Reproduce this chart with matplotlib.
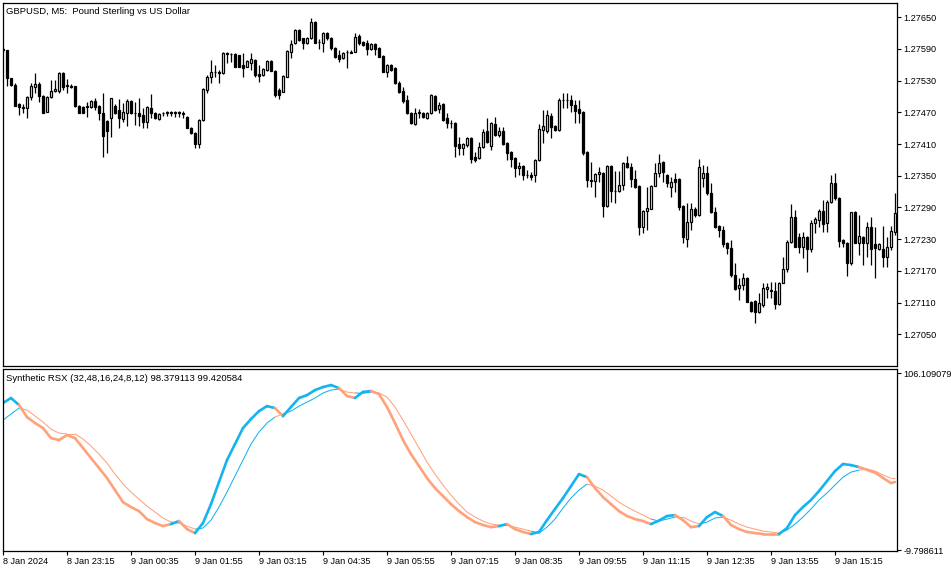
import matplotlib
matplotlib.use('Agg')
import matplotlib.pyplot as plt

# GBPUSD M5 candles (bar 0 = 8 Jan 21:55)
opens = [
    1.27590, 1.27588, 1.27535, 1.27522, 1.27486, 1.27480, 1.27478, 1.27499, 1.27518, 1.27524,
    1.27501, 1.27471, 1.27499, 1.27510, 1.27510, 1.27545, 1.27520, 1.27520, 1.27520, 1.27482,
    1.27480, 1.27480, 1.27480, 1.27491, 1.27482, 1.27469, 1.27454, 1.27459, 1.27482, 1.27474,
    1.27457, 1.27469, 1.27491, 1.27469, 1.27469, 1.27465, 1.27452, 1.27478, 1.27469, 1.27457,
    1.27469, 1.27469, 1.27470, 1.27469, 1.27470, 1.27468, 1.27461, 1.27440, 1.27431, 1.27410,
    1.27456, 1.27512, 1.27537, 1.27546, 1.27546, 1.27545, 1.27582, 1.27581, 1.27580, 1.27579,
    1.27560, 1.27556, 1.27563, 1.27569, 1.27543, 1.27541, 1.27550, 1.27567, 1.27548, 1.27512,
    1.27508, 1.27537, 1.27584, 1.27601, 1.27626, 1.27611, 1.27601, 1.27611, 1.27641, 1.27603,
    1.27601, 1.27620, 1.27611, 1.27592, 1.27579, 1.27573, 1.27584, 1.27584, 1.27584, 1.27615,
    1.27603, 1.27601, 1.27590, 1.27599, 1.27592, 1.27577, 1.27546, 1.27560, 1.27554, 1.27526,
    1.27510, 1.27493, 1.27469, 1.27448, 1.27469, 1.27469, 1.27459, 1.27469, 1.27501, 1.27476,
    1.27486, 1.27459, 1.27450, 1.27450, 1.27410, 1.27402, 1.27408, 1.27421, 1.27385, 1.27384,
    1.27404, 1.27435, 1.27406, 1.27448, 1.27427, 1.27435, 1.27412, 1.27395, 1.27384, 1.27365,
    1.27368, 1.27351, 1.27351, 1.27351, 1.27380, 1.27437, 1.27435, 1.27463, 1.27444, 1.27437,
    1.27493, 1.27494, 1.27493, 1.27484, 1.27476, 1.27471, 1.27395, 1.27342, 1.27340, 1.27353,
    1.27355, 1.27293, 1.27368, 1.27321, 1.27321, 1.27332, 1.27374, 1.27367, 1.27344, 1.27331,
    1.27253, 1.27283, 1.27287, 1.27331, 1.27355, 1.27376, 1.27351, 1.27329, 1.27344, 1.27344,
    1.27293, 1.27230, 1.27262, 1.27287, 1.27276, 1.27346, 1.27355, 1.27317, 1.27281, 1.27255,
    1.27247, 1.27223, 1.27213, 1.27162, 1.27138, 1.27143, 1.27156, 1.27111, 1.27113, 1.27092,
    1.27105, 1.27136, 1.27132, 1.27132, 1.27107, 1.27147, 1.27173, 1.27225, 1.27272, 1.27234,
    1.27215, 1.27234, 1.27211, 1.27261, 1.27266, 1.27283, 1.27261, 1.27300, 1.27336, 1.27308,
    1.27228, 1.27223, 1.27185, 1.27281, 1.27223, 1.27234, 1.27223, 1.27253, 1.27221, 1.27211,
    1.27211, 1.27196, 1.27215, 1.27243,
]
highs = [
    1.27592, 1.27588, 1.27535, 1.27526, 1.27488, 1.27486, 1.27501, 1.27526, 1.27545, 1.27527,
    1.27503, 1.27501, 1.27531, 1.27531, 1.27546, 1.27546, 1.27533, 1.27524, 1.27520, 1.27484,
    1.27482, 1.27490, 1.27493, 1.27497, 1.27484, 1.27507, 1.27456, 1.27497, 1.27486, 1.27495,
    1.27488, 1.27495, 1.27493, 1.27490, 1.27497, 1.27478, 1.27482, 1.27505, 1.27471, 1.27469,
    1.27471, 1.27473, 1.27473, 1.27473, 1.27473, 1.27473, 1.27463, 1.27442, 1.27433, 1.27457,
    1.27516, 1.27541, 1.27569, 1.27560, 1.27550, 1.27584, 1.27584, 1.27582, 1.27582, 1.27579,
    1.27582, 1.27569, 1.27582, 1.27571, 1.27560, 1.27554, 1.27569, 1.27569, 1.27550, 1.27516,
    1.27541, 1.27588, 1.27607, 1.27628, 1.27628, 1.27611, 1.27613, 1.27649, 1.27643, 1.27609,
    1.27622, 1.27622, 1.27613, 1.27594, 1.27588, 1.27584, 1.27588, 1.27588, 1.27620, 1.27618,
    1.27605, 1.27607, 1.27601, 1.27601, 1.27594, 1.27579, 1.27561, 1.27561, 1.27556, 1.27529,
    1.27518, 1.27503, 1.27471, 1.27478, 1.27476, 1.27471, 1.27471, 1.27505, 1.27503, 1.27490,
    1.27488, 1.27469, 1.27456, 1.27452, 1.27423, 1.27412, 1.27423, 1.27423, 1.27395, 1.27414,
    1.27439, 1.27459, 1.27452, 1.27461, 1.27442, 1.27442, 1.27414, 1.27397, 1.27385, 1.27376,
    1.27370, 1.27361, 1.27357, 1.27382, 1.27448, 1.27474, 1.27474, 1.27469, 1.27446, 1.27497,
    1.27507, 1.27507, 1.27503, 1.27493, 1.27493, 1.27473, 1.27397, 1.27376, 1.27355, 1.27367,
    1.27357, 1.27370, 1.27370, 1.27359, 1.27359, 1.27376, 1.27387, 1.27374, 1.27361, 1.27332,
    1.27285, 1.27329, 1.27332, 1.27374, 1.27391, 1.27378, 1.27353, 1.27348, 1.27355, 1.27346,
    1.27295, 1.27298, 1.27298, 1.27291, 1.27382, 1.27370, 1.27368, 1.27336, 1.27291, 1.27257,
    1.27255, 1.27225, 1.27228, 1.27185, 1.27156, 1.27166, 1.27158, 1.27113, 1.27115, 1.27128,
    1.27147, 1.27147, 1.27149, 1.27149, 1.27149, 1.27196, 1.27228, 1.27297, 1.27285, 1.27242,
    1.27243, 1.27236, 1.27266, 1.27272, 1.27287, 1.27304, 1.27304, 1.27351, 1.27355, 1.27310,
    1.27230, 1.27225, 1.27281, 1.27283, 1.27276, 1.27236, 1.27262, 1.27272, 1.27253, 1.27223,
    1.27255, 1.27234, 1.27255, 1.27317,
]
lows = [
    1.27584, 1.27520, 1.27520, 1.27482, 1.27465, 1.27469, 1.27459, 1.27493, 1.27507, 1.27490,
    1.27469, 1.27471, 1.27497, 1.27508, 1.27507, 1.27512, 1.27507, 1.27516, 1.27480, 1.27469,
    1.27469, 1.27461, 1.27478, 1.27474, 1.27456, 1.27385, 1.27393, 1.27423, 1.27467, 1.27440,
    1.27452, 1.27444, 1.27467, 1.27446, 1.27444, 1.27440, 1.27440, 1.27459, 1.27457, 1.27456,
    1.27463, 1.27463, 1.27463, 1.27461, 1.27461, 1.27459, 1.27440, 1.27429, 1.27402, 1.27402,
    1.27454, 1.27507, 1.27526, 1.27537, 1.27526, 1.27543, 1.27563, 1.27565, 1.27556, 1.27556,
    1.27537, 1.27556, 1.27550, 1.27537, 1.27527, 1.27539, 1.27548, 1.27548, 1.27499, 1.27495,
    1.27508, 1.27537, 1.27573, 1.27599, 1.27605, 1.27590, 1.27599, 1.27609, 1.27601, 1.27590,
    1.27584, 1.27607, 1.27588, 1.27573, 1.27565, 1.27571, 1.27554, 1.27582, 1.27584, 1.27598,
    1.27596, 1.27579, 1.27588, 1.27579, 1.27575, 1.27546, 1.27537, 1.27548, 1.27524, 1.27507,
    1.27488, 1.27467, 1.27448, 1.27446, 1.27459, 1.27459, 1.27457, 1.27467, 1.27473, 1.27469,
    1.27454, 1.27440, 1.27440, 1.27385, 1.27389, 1.27389, 1.27404, 1.27374, 1.27376, 1.27382,
    1.27402, 1.27412, 1.27399, 1.27425, 1.27423, 1.27408, 1.27380, 1.27367, 1.27348, 1.27351,
    1.27342, 1.27346, 1.27342, 1.27338, 1.27378, 1.27412, 1.27431, 1.27421, 1.27435, 1.27435,
    1.27478, 1.27478, 1.27471, 1.27450, 1.27450, 1.27389, 1.27329, 1.27329, 1.27310, 1.27338,
    1.27272, 1.27291, 1.27300, 1.27298, 1.27319, 1.27323, 1.27365, 1.27329, 1.27327, 1.27238,
    1.27242, 1.27247, 1.27289, 1.27332, 1.27348, 1.27338, 1.27329, 1.27310, 1.27319, 1.27285,
    1.27223, 1.27215, 1.27247, 1.27272, 1.27274, 1.27329, 1.27314, 1.27280, 1.27251, 1.27234,
    1.27215, 1.27202, 1.27158, 1.27134, 1.27115, 1.27134, 1.27111, 1.27092, 1.27071, 1.27090,
    1.27101, 1.27119, 1.27119, 1.27098, 1.27105, 1.27147, 1.27168, 1.27223, 1.27215, 1.27204,
    1.27194, 1.27168, 1.27206, 1.27242, 1.27253, 1.27243, 1.27243, 1.27298, 1.27304, 1.27215,
    1.27215, 1.27160, 1.27181, 1.27223, 1.27200, 1.27181, 1.27196, 1.27181, 1.27156, 1.27209,
    1.27177, 1.27177, 1.27209, 1.27238,
]
closes = [
    1.27588, 1.27535, 1.27522, 1.27482, 1.27480, 1.27479, 1.27499, 1.27520, 1.27524, 1.27501,
    1.27469, 1.27499, 1.27510, 1.27514, 1.27545, 1.27518, 1.27522, 1.27518, 1.27482, 1.27469,
    1.27469, 1.27482, 1.27491, 1.27480, 1.27469, 1.27425, 1.27435, 1.27497, 1.27469, 1.27459,
    1.27471, 1.27491, 1.27469, 1.27468, 1.27463, 1.27452, 1.27480, 1.27469, 1.27459, 1.27467,
    1.27469, 1.27470, 1.27469, 1.27470, 1.27469, 1.27467, 1.27440, 1.27431, 1.27410, 1.27456,
    1.27514, 1.27537, 1.27546, 1.27547, 1.27545, 1.27582, 1.27581, 1.27580, 1.27556, 1.27556,
    1.27554, 1.27567, 1.27571, 1.27541, 1.27539, 1.27552, 1.27567, 1.27548, 1.27503, 1.27503,
    1.27539, 1.27586, 1.27599, 1.27626, 1.27607, 1.27601, 1.27611, 1.27641, 1.27601, 1.27604,
    1.27620, 1.27611, 1.27592, 1.27575, 1.27571, 1.27582, 1.27585, 1.27583, 1.27613, 1.27601,
    1.27598, 1.27590, 1.27599, 1.27590, 1.27575, 1.27546, 1.27560, 1.27550, 1.27526, 1.27508,
    1.27491, 1.27469, 1.27450, 1.27469, 1.27470, 1.27461, 1.27469, 1.27503, 1.27474, 1.27484,
    1.27456, 1.27450, 1.27449, 1.27406, 1.27402, 1.27410, 1.27421, 1.27382, 1.27380, 1.27404,
    1.27433, 1.27414, 1.27450, 1.27427, 1.27435, 1.27410, 1.27393, 1.27382, 1.27365, 1.27368,
    1.27351, 1.27352, 1.27348, 1.27380, 1.27439, 1.27444, 1.27465, 1.27442, 1.27437, 1.27493,
    1.27494, 1.27493, 1.27484, 1.27473, 1.27469, 1.27393, 1.27342, 1.27341, 1.27353, 1.27357,
    1.27293, 1.27368, 1.27321, 1.27322, 1.27332, 1.27374, 1.27367, 1.27344, 1.27329, 1.27253,
    1.27283, 1.27289, 1.27331, 1.27355, 1.27374, 1.27357, 1.27336, 1.27338, 1.27338, 1.27291,
    1.27234, 1.27262, 1.27287, 1.27276, 1.27367, 1.27355, 1.27317, 1.27281, 1.27253, 1.27247,
    1.27221, 1.27213, 1.27162, 1.27136, 1.27143, 1.27156, 1.27111, 1.27094, 1.27092, 1.27109,
    1.27138, 1.27139, 1.27133, 1.27107, 1.27147, 1.27173, 1.27225, 1.27272, 1.27215, 1.27215,
    1.27234, 1.27211, 1.27261, 1.27268, 1.27283, 1.27259, 1.27300, 1.27336, 1.27308, 1.27226,
    1.27223, 1.27185, 1.27281, 1.27223, 1.27236, 1.27223, 1.27253, 1.27211, 1.27213, 1.27221,
    1.27196, 1.27215, 1.27245, 1.27280,
]

# Synthetic RSX main line and signal line, read every second bar (plus last bar)
rsx_bars = list(range(0, 224, 2)) + [223]
rsx_main = [
    86.6, 89.9, 85.3, 77.4, 73.5, 70.2, 63.6, 62.3, 65.6, 63.6,
    57.1, 50.5, 44.0, 37.4, 29.5, 21.6, 18.4, 15.7, 10.5, 7.9,
    5.9, 7.2, 9.2, 3.9, 1.3, 7.9, 20.3, 34.8, 49.2, 59.7,
    70.2, 76.1, 81.3, 84.6, 83.3, 78.0, 84.0, 89.9, 91.8, 95.1,
    97.1, 98.4, 96.4, 91.2, 89.9, 93.9, 94.5, 92.5, 84.0, 73.5,
    62.3, 53.1, 45.3, 37.4, 30.8, 25.6, 20.3, 15.7, 11.8, 8.5,
    6.6, 5.2, 5.9, 7.2, 3.9, 2.0, 0.7, 2.0, 9.8, 17.1,
    24.3, 32.1, 40.0, 38.0, 30.8, 24.9, 20.3, 15.7, 12.5, 10.5,
    9.2, 7.2, 9.5, 12.5, 13.1, 9.8, 5.2, 5.9, 11.8, 15.1,
    12.5, 6.6, 3.9, 2.0, 1.3, 0.7, 0.7, 0.7, 4.6, 13.1,
    18.4, 23.0, 28.9, 35.4, 42.0, 46.6, 45.9, 44.6, 42.8, 41.0,
    37.5, 34.1, 34.8,
]
rsx_signal = [
    75.4, 79.4, 83.3, 82.0, 78.1, 74.1, 69.5, 66.9, 66.3, 66.3,
    63.0, 58.4, 53.1, 47.2, 40.0, 33.5, 28.2, 23.6, 19.0, 15.1,
    11.2, 8.5, 7.9, 5.9, 3.9, 4.6, 9.8, 18.4, 28.2, 38.7,
    49.2, 59.7, 67.6, 73.5, 77.4, 79.5, 81.3, 84.6, 87.2, 89.9,
    93.2, 95.1, 95.8, 93.8, 93.2, 93.0, 93.8, 93.2, 90.5, 84.0,
    75.4, 66.3, 57.1, 47.9, 40.0, 32.8, 26.2, 20.3, 15.1, 11.8,
    9.2, 7.2, 6.6, 6.6, 5.2, 3.9, 2.6, 1.3, 5.2, 10.5,
    17.7, 24.3, 29.5, 33.5, 32.1, 29.5, 25.6, 21.6, 18.4, 15.7,
    13.1, 10.5, 9.2, 10.5, 11.8, 11.8, 9.2, 7.2, 8.5, 11.2,
    11.8, 9.8, 7.2, 5.2, 3.9, 2.6, 2.0, 1.3, 3.3, 7.2,
    11.8, 17.1, 23.0, 27.6, 32.8, 38.0, 41.3, 42.6, 43.3, 42.0,
    39.4, 37.4, 37.4,
]

price_ticks = [1.27650, 1.27590, 1.27530, 1.27470, 1.27410, 1.27350,
               1.27290, 1.27230, 1.27170, 1.27110, 1.27050]
rsx_ticks = [106.109079, -9.798611]
time_labels = ['8 Jan 2024', '8 Jan 23:15', '9 Jan 00:35', '9 Jan 01:55', '9 Jan 03:15',
               '9 Jan 04:35', '9 Jan 05:55', '9 Jan 07:15', '9 Jan 08:35', '9 Jan 09:55',
               '9 Jan 11:15', '9 Jan 12:35', '9 Jan 13:55', '9 Jan 15:15']

UP_COL = '#14B4F0'
DN_COL = '#FFA27C'
FONT = 'Liberation Sans'

fig = plt.figure(figsize=(9.51, 5.72), dpi=100)
ax = fig.add_axes([2.7 / 951, 1 - 366 / 572, (897 - 2.7) / 951, (366 - 2.7) / 572])
ax2 = fig.add_axes([2.7 / 951, 1 - 551 / 572, (897 - 2.7) / 951, (551 - 369) / 572])

n = len(closes)
bars = list(range(n))

# candles: wicks first, then bodies
ax.vlines(bars, lows, highs, color='black', linewidth=0.9)
bottoms = [min(o, c) for o, c in zip(opens, closes)]
heights = [abs(c - o) for o, c in zip(opens, closes)]
faces = ['white' if c > o else 'black' for o, c in zip(opens, closes)]
ax.bar(bars, heights, bottom=bottoms, width=0.55, color=faces, edgecolor='black',
       linewidth=0.9, zorder=3)

ax.set_xlim(-0.075, 223.5)
ax.set_ylim(1.26990, 1.2767763)
ax.yaxis.tick_right()
ax.set_yticks(price_ticks)
ax.set_yticklabels(['%.5f' % p for p in price_ticks])
ax.set_xticks([])
ax.text(0.004, 0.988, 'GBPUSD, M5:  Pound Sterling vs US Dollar', transform=ax.transAxes,
        ha='left', va='top', fontsize=6.8, family=FONT)

# indicator pane: both lines take the colour of the main line's direction vs signal
for k in range(1, len(rsx_bars)):
    col = UP_COL if rsx_main[k] > rsx_signal[k] else DN_COL
    xs = [rsx_bars[k - 1], rsx_bars[k]]
    ax2.plot(xs, [rsx_signal[k - 1], rsx_signal[k]], color=col, linewidth=0.75,
             solid_capstyle='butt')
for k in range(1, len(rsx_bars)):
    col = UP_COL if rsx_main[k] > rsx_signal[k] else DN_COL
    xs = [rsx_bars[k - 1], rsx_bars[k]]
    ax2.plot(xs, [rsx_main[k - 1], rsx_main[k]], color=col, linewidth=1.9,
             solid_capstyle='round')

ax2.set_xlim(-0.075, 223.5)
ax2.set_ylim(-10.45, 108.93)
ax2.yaxis.tick_right()
ax2.set_yticks(rsx_ticks)
ax2.set_yticklabels(['%.6f' % v for v in rsx_ticks])
ax2.set_xticks(list(range(0, 16 * len(time_labels), 16)))
ax2.set_xticklabels(time_labels, ha='left')
ax2.text(0.004, 0.975, 'Synthetic RSX (32,48,16,24,8,12) 98.379113 99.420584',
         transform=ax2.transAxes, ha='left', va='top', fontsize=6.8, family=FONT)

for a in (ax, ax2):
    for s in a.spines.values():
        s.set_linewidth(0.9)
        s.set_color('black')
    a.tick_params(axis='both', length=3, width=0.8, pad=1.5, labelsize=6.6, colors='black')
    for lab in a.get_xticklabels() + a.get_yticklabels():
        lab.set_family(FONT)

fig.savefig('out.png', dpi=100, facecolor='white')
